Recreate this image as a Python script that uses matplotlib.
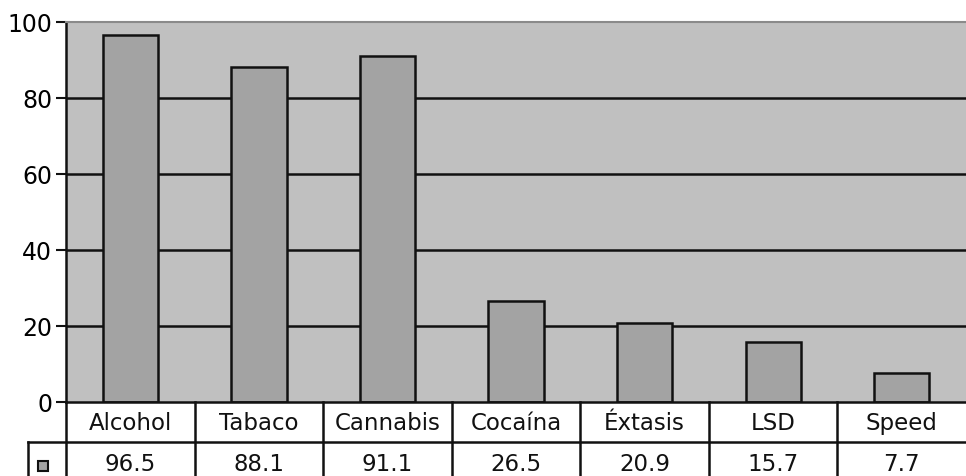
import matplotlib
matplotlib.use("Agg")
import matplotlib.pyplot as plt
from matplotlib.transforms import blended_transform_factory
from matplotlib.lines import Line2D
from matplotlib.patches import Rectangle

categories = ["Alcohol", "Tabaco", "Cannabis", "Cocaína", "Éxtasis", "LSD", "Speed"]
values = [96.5, 88.1, 91.1, 26.5, 20.9, 15.7, 7.7]
value_labels = ["96.5", "88.1", "91.1", "26.5", "20.9", "15.7", "7.7"]
y_ticks = [0, 20, 40, 60, 80, 100]

W, H = 966, 477
fig = plt.figure(figsize=(W / 100, H / 100), dpi=100)
fig.patch.set_facecolor("white")

def fy(px):
    return 1 - px / H

left_px, right_px, top_px, bottom_px = 66, 966, 23, 403
ax = fig.add_axes([left_px / W, fy(bottom_px), (right_px - left_px) / W,
                   (bottom_px - top_px) / H])
ax.set_facecolor("#c0c0c0")

n = len(categories)
ax.set_xlim(-0.5, n - 0.5)
ax.set_ylim(0, 100)

for yv in y_ticks[1:-1]:
    ax.axhline(yv, color="#111111", lw=1.8, zorder=1)

ax.bar(range(n), values, width=0.43, color="#a3a3a3", edgecolor="#111111",
       linewidth=1.8, zorder=2)

ax.set_yticks(y_ticks)
ax.set_yticklabels([str(t) for t in y_ticks], fontsize=17, family="DejaVu Sans")
ax.tick_params(axis="y", length=7, width=1.5, color="#111111", pad=3)
ax.set_xticks([])
for s in ["right", "bottom"]:
    ax.spines[s].set_visible(False)
ax.spines["top"].set_color("#8a8a8a")
ax.spines["top"].set_linewidth(1.5)
ax.spines["left"].set_color("#111111")
ax.spines["left"].set_linewidth(1.8)

# data table below the axis
tr = blended_transform_factory(ax.transData, fig.transFigure)
lw = 1.8
row_top = fy(403)
row_mid = fy(443)
fig_bottom = 0.0

fig.add_artist(Line2D([left_px / W, 1], [row_top, row_top], color="#111111", lw=lw,
                      transform=fig.transFigure))
fig.add_artist(Line2D([28 / W, 1], [row_mid, row_mid], color="#111111", lw=lw,
                      transform=fig.transFigure))
fig.add_artist(Line2D([28 / W, 28 / W], [row_mid, fig_bottom], color="#111111", lw=lw,
                      transform=fig.transFigure))
for i in range(n):
    xb = i - 0.5
    fig.add_artist(Line2D([xb, xb], [row_top, fig_bottom], color="#111111", lw=lw,
                          transform=tr))

for i, (c, v) in enumerate(zip(categories, value_labels)):
    fig.text(i, fy(424), c, transform=tr, ha="center", va="center", fontsize=16.5,
             family="DejaVu Sans", color="#111111")
    fig.text(i, fy(465), v, transform=tr, ha="center", va="center", fontsize=16.5,
             family="DejaVu Sans", color="#111111")

fig.add_artist(Rectangle((38 / W, fy(472)), 10 / W, 10 / H, facecolor="#a3a3a3",
                         edgecolor="#111111", lw=1.5, transform=fig.transFigure))

fig.savefig("out.png", dpi=100)
